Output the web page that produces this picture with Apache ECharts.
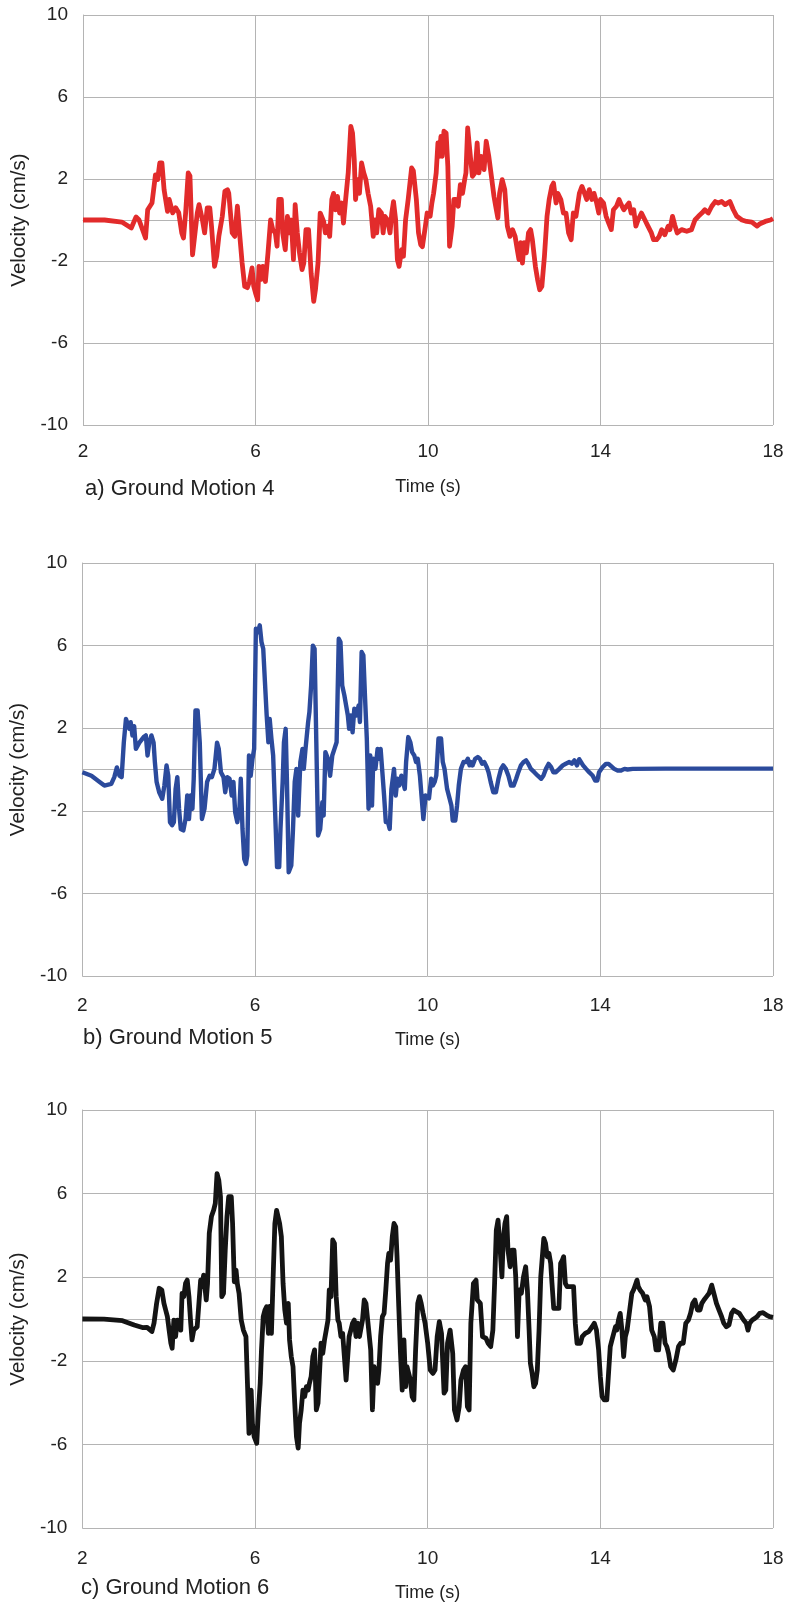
<!DOCTYPE html>
<html>
<head>
<meta charset="utf-8">
<script src="https://cdn.jsdelivr.net/npm/echarts@6/dist/echarts.min.js"></script>
<style>
html,body{margin:0;padding:0;background:#fff;}
#chart{width:789px;height:1604px;}
</style>
</head>
<body>
<div id="chart"></div>
<script>
// ---- Data ----
const xTicks = [2, 6, 10, 14, 18];
const yTicks = [-10, -6, -2, 2, 6, 10];
const captions = ['a) Ground Motion 4', 'b) Ground Motion 5', 'c) Ground Motion 6'];

const timeA = [2.0,2.5,2.9,3.12,3.23,3.3,3.45,3.5,3.6,3.68,3.73,3.78,3.83,3.88,3.96,4.0,4.08,4.15,4.22,4.29,4.33,4.38,4.44,4.48,4.54,4.58,4.65,4.69,4.77,4.82,4.88,4.94,4.98,5.05,5.1,5.15,5.23,5.29,5.35,5.38,5.46,5.52,5.58,5.63,5.69,5.75,5.81,5.86,5.92,5.96,6.0,6.05,6.08,6.13,6.17,6.23,6.29,6.35,6.4,6.46,6.5,6.54,6.6,6.63,6.69,6.74,6.78,6.83,6.88,6.92,6.97,7.02,7.08,7.12,7.17,7.23,7.29,7.35,7.39,7.45,7.5,7.58,7.62,7.67,7.72,7.77,7.81,7.85,7.9,7.95,8.0,8.04,8.09,8.15,8.21,8.25,8.29,8.32,8.37,8.41,8.46,8.51,8.56,8.61,8.67,8.73,8.77,8.81,8.86,8.92,8.96,9.0,9.06,9.12,9.16,9.2,9.25,9.29,9.33,9.39,9.43,9.48,9.54,9.62,9.66,9.73,9.78,9.83,9.87,9.94,9.98,10.05,10.09,10.13,10.19,10.23,10.26,10.3,10.33,10.37,10.42,10.46,10.5,10.56,10.6,10.65,10.7,10.75,10.8,10.85,10.88,10.92,10.99,11.03,11.09,11.14,11.18,11.23,11.3,11.35,11.41,11.48,11.53,11.57,11.62,11.66,11.72,11.78,11.84,11.9,11.96,12.02,12.07,12.11,12.15,12.19,12.23,12.28,12.33,12.38,12.42,12.49,12.54,12.59,12.64,12.7,12.76,12.81,12.87,12.91,12.97,13.01,13.08,13.14,13.2,13.26,13.32,13.37,13.43,13.51,13.57,13.63,13.68,13.74,13.8,13.85,13.91,13.96,14.0,14.07,14.13,14.19,14.25,14.3,14.37,14.43,14.48,14.54,14.6,14.66,14.71,14.77,14.82,14.87,14.95,15.03,15.1,15.18,15.23,15.3,15.36,15.42,15.49,15.57,15.61,15.67,15.72,15.78,15.88,16.0,16.11,16.19,16.27,16.35,16.42,16.5,16.58,16.66,16.73,16.81,16.89,17.0,17.08,17.16,17.28,17.39,17.51,17.63,17.7,17.82,17.94,18.0];
const velA = [0,0,-0.1,-0.39,0.15,0,-0.88,0.5,0.83,2.2,1.97,2.78,2.78,1.48,0.42,1.0,0.35,0.6,0.35,-0.63,-0.88,0.34,2.3,2.15,-1.7,-1.7,0.34,0.75,0,-0.63,0.59,0.59,-0.3,-2.26,-1.77,-0.8,0.18,1.4,1.48,1.3,-0.63,-0.8,0.67,-0.63,-2.1,-3.24,-3.3,-3.0,-2.34,-3.24,-3.56,-3.89,-2.26,-2.9,-2.26,-3.0,-1.6,0,-0.47,-0.63,-1.28,1.0,1.0,-0.63,-1.45,0.18,-0.63,0,-1.93,0.75,-0.63,-1.6,-2.42,-2.1,-0.47,-0.47,-2.6,-3.97,-3.4,-2.1,0.34,-0.07,-0.63,-0.3,-0.8,1.0,1.3,0.5,1.15,0.34,0.83,-0.15,1.0,2.3,4.57,4.24,2.94,1.0,1.97,1.3,2.78,2.3,1.97,1.3,0.67,-0.8,0,-0.63,0.5,0.34,-0.63,0.18,0,-0.63,0.34,0.9,0,-1.93,-2.26,-1.45,-1.77,0,1.0,2.54,2.4,1.0,-0.63,-1.2,-1.3,-0.3,0.34,0.18,0.83,1.3,2.3,3.76,3.1,4.08,3.1,4.33,4.24,2.62,-1.28,-0.3,1.0,1.0,0.67,1.72,1.3,1.97,2.3,4.49,2.94,2.13,2.3,3.76,2.3,3.1,2.46,3.84,3.1,1.97,1.15,0.67,0.1,1.3,1.97,1.48,-0.3,-0.8,-0.47,-0.8,-1.45,-1.93,-1.1,-2.1,-1.1,-1.6,-0.63,-0.47,-0.96,-2.26,-2.9,-3.4,-3.24,-1.77,0.18,1.0,1.64,1.8,0.83,1.3,1.0,0.34,0.34,-0.63,-0.96,0.34,0.18,1.3,1.64,1.3,1.0,1.48,1.0,1.3,0.83,0.34,1.0,0.83,0.18,-0.15,-0.47,0.5,0.67,1.0,0.75,0.5,0.67,0.83,0.34,0.5,-0.3,0,0.34,0,-0.3,-0.63,-0.96,-0.96,-0.8,-0.47,-0.72,-0.3,-0.47,0.18,-0.23,-0.63,-0.47,-0.55,-0.47,0,0.18,0.34,0.5,0.34,0.67,0.9,0.83,0.9,0.75,0.9,0.5,0.18,0,-0.07,-0.1,-0.3,-0.18,-0.07,0,0.07];

const timeB = [2.0,2.21,2.4,2.51,2.67,2.74,2.8,2.86,2.91,2.96,3.01,3.05,3.09,3.12,3.16,3.2,3.24,3.28,3.32,3.36,3.42,3.47,3.51,3.55,3.6,3.65,3.68,3.72,3.78,3.85,3.9,3.95,3.99,4.03,4.08,4.12,4.16,4.2,4.24,4.28,4.34,4.39,4.43,4.47,4.51,4.55,4.58,4.62,4.67,4.72,4.77,4.83,4.89,4.95,5.0,5.06,5.12,5.16,5.21,5.27,5.31,5.36,5.41,5.46,5.5,5.54,5.59,5.64,5.67,5.71,5.75,5.79,5.82,5.86,5.9,5.94,5.98,6.02,6.07,6.11,6.15,6.19,6.23,6.27,6.31,6.34,6.38,6.42,6.48,6.51,6.56,6.59,6.64,6.67,6.71,6.74,6.78,6.84,6.88,6.92,6.96,7.0,7.05,7.1,7.13,7.17,7.23,7.26,7.3,7.34,7.38,7.42,7.46,7.51,7.56,7.59,7.63,7.69,7.74,7.79,7.84,7.89,7.94,7.98,8.02,8.07,8.11,8.15,8.18,8.22,8.26,8.3,8.35,8.4,8.43,8.47,8.51,8.55,8.59,8.63,8.67,8.71,8.74,8.79,8.84,8.87,8.91,8.95,8.99,9.03,9.08,9.12,9.16,9.22,9.26,9.3,9.34,9.39,9.43,9.47,9.5,9.55,9.6,9.64,9.69,9.73,9.77,9.82,9.9,9.95,10.03,10.08,10.12,10.16,10.2,10.25,10.31,10.35,10.39,10.45,10.51,10.55,10.58,10.64,10.68,10.72,10.77,10.83,10.89,10.93,10.97,11.0,11.04,11.1,11.16,11.21,11.26,11.31,11.37,11.41,11.46,11.52,11.58,11.64,11.7,11.75,11.81,11.87,11.93,11.99,12.05,12.1,12.16,12.22,12.28,12.33,12.39,12.47,12.55,12.63,12.68,12.74,12.8,12.86,12.91,12.97,13.05,13.13,13.2,13.28,13.34,13.4,13.46,13.51,13.55,13.6,13.67,13.74,13.82,13.88,13.93,13.97,14.05,14.13,14.19,14.25,14.32,14.4,14.48,14.56,14.63,14.75,15.5,16.5,17.5,18.0];
const velB = [-0.13,-0.3,-0.6,-0.78,-0.7,-0.37,0.1,-0.3,-0.37,1.3,2.45,2.37,1.97,2.29,1.65,2.1,1.0,0.92,1.3,1.38,1.57,1.65,0.68,1.3,1.65,1.3,0.36,-0.6,-1.1,-1.42,-0.78,0.2,-0.3,-2.55,-2.7,-2.55,-0.95,-0.37,-1.9,-2.88,-2.95,-2.4,-1.26,-2.4,-1.26,-1.9,-0.45,2.86,2.86,1.3,-2.4,-1.9,-0.6,-0.3,-0.37,0.03,1.3,1.0,-0.13,-0.37,-1.1,-0.37,-0.45,-1.26,-0.6,-2.07,-2.55,-1.83,-0.45,-2.88,-4.33,-4.57,-4.17,0.68,-0.3,0.5,1.0,6.82,6.65,6.98,6.17,5.85,4.23,2.62,1.32,2.45,1.49,0.68,-2.88,-4.73,-4.73,-2.88,-0.6,1.32,1.97,-0.6,-4.98,-4.65,-2.88,-0.6,0.03,-2.23,0.36,1.0,0.03,1.0,2.29,2.78,4.07,6.0,5.85,1.32,-3.2,-2.88,-1.58,-2.23,0.84,0.52,-0.3,0.68,1.0,1.32,6.33,6.17,4.07,3.59,3.1,2.62,1.97,2.62,1.8,2.94,2.62,3.1,2.3,5.69,5.53,3.42,1.49,-1.9,0.68,-1.75,0.52,0.03,1.0,0.52,1.0,-0.13,-1.26,-2.55,-2.55,-2.88,-0.94,0.03,-1.26,-0.45,-0.78,-0.3,-0.37,-0.94,0.36,1.57,1.3,0.84,0.68,0.36,0.52,-0.3,-2.4,-1.26,-1.4,-0.45,-0.77,-0.61,-0.29,1.5,1.5,0.36,0.03,-0.94,-1.42,-1.75,-2.47,-2.47,-1.75,-0.78,0.03,0.36,0.36,0.52,0.2,0.36,0.2,0.52,0.6,0.52,0.28,0.36,0.11,-0.13,-0.61,-1.1,-1.1,-0.45,0.03,0.2,0.03,-0.3,-0.78,-0.78,-0.45,-0.13,0.2,0.36,0.44,0.28,0.03,-0.13,-0.3,-0.45,-0.3,0.03,0.27,0.11,-0.13,-0.13,0.03,0.2,0.28,0.36,0.28,0.44,0.2,0.5,0.44,0.2,0.03,-0.13,-0.29,-0.53,-0.53,-0.13,0.11,0.27,0.27,0.16,0.03,-0.05,-0.05,0.03,0,0.03,0.04,0.04,0.04,0.04];

const timeC = [2.0,2.5,2.93,3.2,3.39,3.5,3.61,3.66,3.72,3.78,3.84,3.89,3.93,3.97,4.01,4.05,4.08,4.12,4.16,4.2,4.24,4.28,4.31,4.35,4.39,4.43,4.47,4.51,4.54,4.58,4.62,4.66,4.7,4.74,4.77,4.81,4.87,4.9,4.94,4.99,5.04,5.08,5.12,5.16,5.2,5.23,5.27,5.31,5.35,5.39,5.45,5.48,5.52,5.56,5.59,5.63,5.68,5.73,5.79,5.83,5.86,5.91,5.94,5.98,6.04,6.08,6.12,6.15,6.19,6.23,6.27,6.31,6.34,6.38,6.42,6.46,6.5,6.54,6.57,6.61,6.65,6.69,6.73,6.77,6.8,6.84,6.88,6.92,6.96,7.0,7.03,7.07,7.11,7.15,7.19,7.23,7.26,7.3,7.34,7.38,7.42,7.46,7.49,7.53,7.57,7.61,7.65,7.69,7.72,7.76,7.8,7.84,7.88,7.92,7.95,7.99,8.03,8.07,8.11,8.15,8.18,8.22,8.26,8.3,8.34,8.38,8.42,8.45,8.49,8.53,8.57,8.61,8.64,8.68,8.72,8.76,8.8,8.84,8.87,8.91,8.95,8.99,9.03,9.07,9.1,9.14,9.18,9.22,9.26,9.29,9.33,9.37,9.41,9.45,9.49,9.52,9.56,9.6,9.64,9.68,9.72,9.77,9.81,9.85,9.89,9.94,10.0,10.06,10.12,10.17,10.22,10.27,10.32,10.38,10.42,10.46,10.52,10.58,10.62,10.68,10.73,10.77,10.83,10.88,10.92,10.96,11.0,11.06,11.12,11.15,11.22,11.27,11.35,11.4,11.46,11.51,11.55,11.59,11.63,11.68,11.72,11.75,11.79,11.83,11.86,11.91,11.95,12.0,12.04,12.08,12.12,12.17,12.22,12.27,12.31,12.35,12.38,12.42,12.46,12.5,12.54,12.58,12.62,12.65,12.69,12.73,12.77,12.81,12.85,12.88,12.92,13.04,13.08,13.12,13.15,13.19,13.23,13.38,13.42,13.46,13.54,13.58,13.65,13.73,13.81,13.86,13.91,13.96,14.0,14.04,14.09,14.15,14.19,14.23,14.27,14.31,14.35,14.38,14.42,14.46,14.5,14.54,14.58,14.62,14.68,14.73,14.77,14.81,14.85,14.88,14.92,14.98,15.04,15.08,15.14,15.19,15.25,15.29,15.35,15.4,15.45,15.5,15.54,15.58,15.63,15.69,15.75,15.81,15.86,15.92,15.98,16.04,16.09,16.14,16.19,16.25,16.31,16.35,16.4,16.46,16.52,16.58,16.63,16.69,16.75,16.81,16.86,16.92,16.98,17.04,17.09,17.15,17.22,17.27,17.32,17.38,17.42,17.46,17.52,17.58,17.63,17.69,17.77,17.85,17.92,18.0];
const velC = [0,-0.01,-0.08,-0.29,-0.41,-0.4,-0.6,-0.2,0.75,1.47,1.39,0.75,0.43,0.11,-0.53,-1.16,-1.4,-0.05,-0.84,-0.05,-0.2,-0.53,1.23,1.07,1.7,1.86,1.07,-0.2,-1.0,-0.53,-0.53,-0.37,0.75,1.86,1.55,2.1,0.91,1.7,4.1,4.9,5.2,5.53,6.96,6.65,5.85,1.07,1.23,3.3,4.9,5.85,5.85,4.57,1.78,2.34,1.7,1.23,-0.05,-0.53,-0.84,-3.4,-5.47,-3.4,-5.0,-5.63,-5.95,-4.35,-3.08,-1.48,0.11,0.43,0.59,-0.69,0.6,-0.69,2.02,4.57,5.2,5.13,4.57,3.94,1.7,0.43,-0.2,0.75,-1.0,-1.8,-2.28,-4.03,-5.63,-6.18,-5.0,-4.35,-3.4,-3.71,-3.24,-3.4,-3.08,-2.76,-1.8,-1.48,-4.35,-4.03,-2.76,-1.16,-1.64,-1.0,-0.53,-0.05,1.39,1.07,3.78,3.62,1.07,-0.05,-0.2,-0.84,-0.69,-1.8,-2.92,-2.92,-0.84,-0.53,-0.2,-0.05,-0.84,-0.2,-0.84,-0.84,-0.05,0.91,0.75,-0.05,-0.05,-1.48,-4.35,-2.28,-2.28,-3.08,-2.44,-0.84,0.11,0.27,1.39,2.66,3.14,2.82,3.94,4.57,4.41,2.98,0.59,-1.64,-3.4,-1.0,-3.24,-2.28,-2.28,-2.92,-3.71,-3.87,-1.5,0.75,1.07,0.75,0.3,-0.2,-1.16,-2.44,-2.6,-2.44,-0.84,-0.13,-0.69,-3.55,-3.4,-1.16,-0.53,-1.64,-4.35,-4.83,-4.19,-2.92,-2.44,-2.28,-4.19,-4.35,-0.2,1.7,1.86,0.91,0.75,-0.84,-0.92,-1.16,-1.32,-0.53,1.7,4.25,4.73,3.3,2.02,3.78,4.57,4.9,3.3,2.5,3.3,3.3,2.02,-0.84,1.39,1.23,2.02,2.5,1.39,-0.53,-2.12,-2.6,-3.24,-3.08,-2.44,-0.53,2.02,2.82,3.86,3.62,2.98,3.14,2.66,1.7,0.51,0.51,2.66,2.82,2.98,1.7,1.55,1.55,-0.2,-1.16,-1.16,-0.84,-0.69,-0.6,-0.37,-0.2,-0.53,-1.48,-2.76,-3.71,-3.87,-3.87,-2.6,-1.32,-1.0,-0.69,-0.37,-0.53,-0.05,0.27,-0.53,-1.8,-0.84,-0.53,0.43,1.23,1.39,1.39,1.86,1.55,1.39,1.23,0.91,1.07,0.59,-0.53,-0.84,-1.48,-1.48,-0.2,-0.2,-1.16,-1.32,-1.64,-2.28,-2.44,-1.96,-1.32,-1.16,-1.16,-0.2,-0.05,0.27,0.75,0.91,0.43,0.43,0.75,0.91,1.07,1.23,1.62,1.23,0.75,0.43,0.11,-0.2,-0.37,-0.29,0.27,0.43,0.35,0.27,0.11,-0.05,-0.2,-0.53,-0.2,-0.05,0.03,0.11,0.27,0.3,0.19,0.11,0.08];

// ---- Build chart ----
const zip = (t, v) => t.map((x, i) => [x, v[i]]);
const panels = [
  {t: timeA, v: velA, color: '#e22b2b', lw: 4.8, grid: {left: 83, top: 15, width: 690, height: 410}, xm: 17, ng: 53, cap: 478},
  {t: timeB, v: velB, color: '#2b4a9c', lw: 4.4, grid: {left: 81, top: 563, width: 692, height: 413}, xm: 20, ng: 55, cap: 1027},
  {t: timeC, v: velC, color: '#141414', lw: 4.8, grid: {left: 79, top: 1110, width: 694, height: 418}, xm: 21, ng: 56, cap: 1577}
];
const gridColor = '#b4b4b4';
const textColor = '#222';
const font = 'Liberation Sans, Arial, sans-serif';

const option = {
  animation: false,
  backgroundColor: '#fff',
  title: panels.map((p, i) => ({
    text: captions[i], left: p.grid.left + 2, top: p.cap, padding: 0,
    textStyle: {fontSize: 22, fontWeight: 'normal', color: textColor, fontFamily: font}
  })),
  grid: panels.map(p => Object.assign({containLabel: false}, p.grid)),
  xAxis: panels.map((p, i) => ({
    type: 'value', gridIndex: i, min: 2, max: 18, interval: 2,
    name: 'Time (s)', nameLocation: 'middle', nameGap: p.ng,
    nameTextStyle: {fontSize: 18, color: textColor, fontFamily: font},
    axisLine: {show: true, lineStyle: {color: gridColor, width: 1}},
    axisTick: {show: false},
    axisLabel: {
      fontSize: 19, color: textColor, fontFamily: font, margin: p.xm,
      formatter: v => xTicks.indexOf(v) >= 0 ? String(v) : ''
    },
    splitLine: {show: true, lineStyle: {color: [gridColor, 'rgba(0,0,0,0)'], width: 1}}
  })),
  yAxis: panels.map((p, i) => ({
    type: 'value', gridIndex: i, min: -10, max: 10, interval: 2,
    name: 'Velocity (cm/s)', nameLocation: 'middle', nameGap: 51,
    nameTextStyle: {fontSize: 20.5, color: textColor, fontFamily: font},
    axisLine: {show: true, lineStyle: {color: gridColor, width: 1}},
    axisTick: {show: false},
    axisLabel: {
      fontSize: 19, color: textColor, fontFamily: font, margin: 15,
      formatter: v => yTicks.indexOf(v) >= 0 ? String(v) : ''
    },
    splitLine: {show: true, lineStyle: {color: [gridColor, 'rgba(0,0,0,0)'], width: 1}}
  })),
  series: panels.map((p, i) => ({
    type: 'line', xAxisIndex: i, yAxisIndex: i,
    data: zip(p.t, p.v), showSymbol: false, symbol: 'none',
    lineStyle: {color: p.color, width: p.lw, join: 'round'},
    itemStyle: {color: p.color}
  }))
};

const chart = echarts.init(document.getElementById('chart'), null, {renderer: 'canvas'});
chart.setOption(option);
</script>
</body>
</html>
